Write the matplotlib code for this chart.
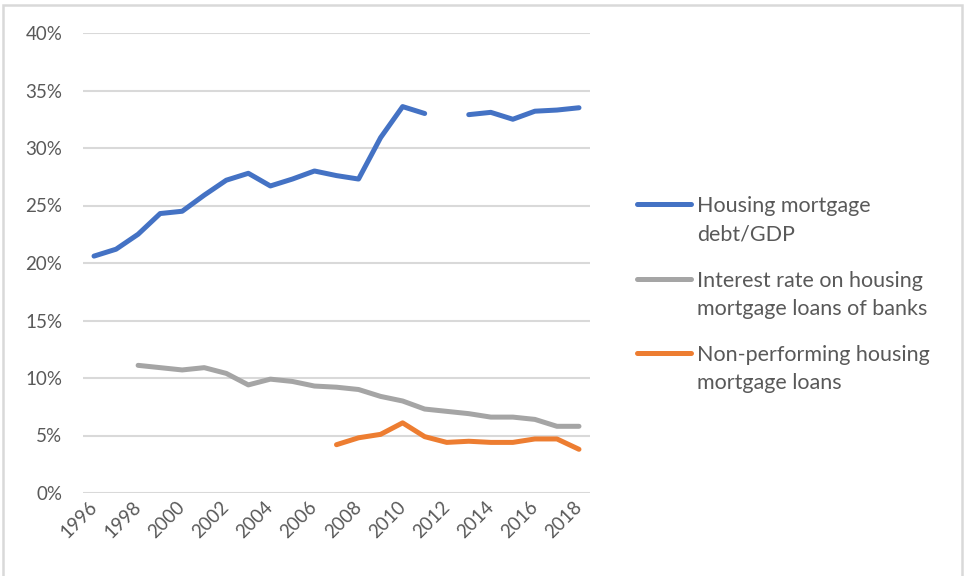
import numpy as np
import matplotlib

matplotlib.use("Agg")
import matplotlib.pyplot as plt
from matplotlib.lines import Line2D
from matplotlib.patches import Rectangle
from matplotlib.ticker import PercentFormatter


# ============================================================
# Data (values in %)
# ============================================================

years = list(range(1996, 2019))

mortgage_debt_gdp = [
    20.6, 21.2, 22.5, 24.3, 24.5, 25.9, 27.2, 27.8, 26.7, 27.3, 28.0, 27.6,
    27.3, 30.9, 33.6, 33.0, np.nan, 32.9, 33.1, 32.5, 33.2, 33.3, 33.5,
]

interest_rate = [
    np.nan, np.nan, 11.1, 10.9, 10.7, 10.9, 10.4, 9.4, 9.9, 9.7, 9.3, 9.2,
    9.0, 8.4, 8.0, 7.3, 7.1, 6.9, 6.6, 6.6, 6.4, 5.8, 5.8,
]

non_performing = [
    np.nan, np.nan, np.nan, np.nan, np.nan, np.nan, np.nan, np.nan, np.nan,
    np.nan, np.nan, 4.2, 4.8, 5.1, 6.1, 4.9, 4.4, 4.5, 4.4, 4.4, 4.7, 4.7, 3.8,
]

series_labels = [
    "Housing mortgage\ndebt/GDP",
    "Interest rate on housing\nmortgage loans of banks",
    "Non-performing housing\nmortgage loans",
]
series_colors = ["#4472C4", "#A5A5A5", "#ED7D31"]
series_values = [mortgage_debt_gdp, interest_rate, non_performing]

y_ticks = [0, 5, 10, 15, 20, 25, 30, 35, 40]
x_tick_years = list(range(1996, 2019, 2))


# ============================================================
# Figure
# ============================================================

plt.rcParams["font.family"] = ["Lato", "DejaVu Sans"]
TEXT_COLOR = "#595959"
GRID_COLOR = "#D9D9D9"

fig = plt.figure(figsize=(9.64, 5.76), dpi=100)
ax = fig.add_axes([83 / 964, 1 - 493 / 576, (590 - 83) / 964, (493 - 33) / 576])

for vals, color in zip(series_values, series_colors):
    ax.plot(years, vals, color=color, linewidth=3.6, solid_capstyle="round",
            solid_joinstyle="round", zorder=3)

ax.set_xlim(1995.5, 2018.5)
ax.set_ylim(0, 40)
ax.set_yticks(y_ticks)
ax.yaxis.set_major_formatter(PercentFormatter(decimals=0))
ax.set_xticks(x_tick_years)
ax.set_xticklabels([str(y) for y in x_tick_years], rotation=45, ha="right",
                   va="center", rotation_mode="anchor")

ax.grid(axis="y", color=GRID_COLOR, linewidth=1.5, zorder=0)
ax.set_axisbelow(True)
for side in ["top", "right", "left", "bottom"]:
    ax.spines[side].set_visible(False)
ax.tick_params(axis="both", length=0, labelsize=13.5, labelcolor=TEXT_COLOR)
ax.tick_params(axis="y", pad=15)
ax.tick_params(axis="x", pad=8)

# Legend drawn by hand so each key lines up with the first text line
legend_y = [204, 279, 353]
for label, color, y in zip(series_labels, series_colors, legend_y):
    yf = 1 - y / 576
    fig.add_artist(Line2D([637 / 964, 691 / 964], [yf, yf], color=color,
                          linewidth=3.6, solid_capstyle="round"))
    fig.text(697 / 964, yf + 8 / 576, label, color=TEXT_COLOR, fontsize=15.5,
             va="top", ha="left", linespacing=1.5)

# Chart border
fig.add_artist(Rectangle((3 / 964, -0.05), 959 / 964, 1.05 - 5 / 576,
                         transform=fig.transFigure, fill=False,
                         edgecolor=GRID_COLOR, linewidth=1.8))

fig.savefig("out.png", dpi=100, facecolor="white")
